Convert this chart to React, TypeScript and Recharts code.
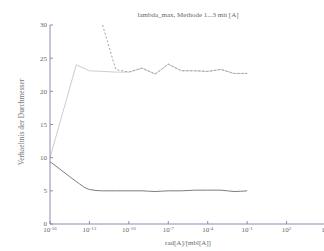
import { LineChart, Line, XAxis, YAxis } from "recharts";

const EXPONENTS = [-16, -15, -14, -13, -12, -11, -10, -9, -8, -7, -6, -5, -4, -3, -2, -1];
const METHOD_1 = [9.4, 7.9, 6.4, 5.2, 5.0, 5.0, 5.0, 5.0, 4.9, 5.0, 5.0, 5.1, 5.1, 5.1, 4.9, 5.0];
const METHOD_2 = [10, 17, 24, 23.1, 23.0, 22.9, 22.9, 23.5, 22.6, 24.1, 23.1, 23.1, 23.0, 23.3, 22.7, 22.7];
const METHOD_3 = [null, null, null, null, 30, 23.3, 22.9, 23.5, 22.6, 24.1, 23.1, 23.1, 23.0, 23.3, 22.7, 22.7];
const X_TICKS = [-16, -13, -10, -7, -4, -1, 2, 5];
const Y_TICKS = [0, 5, 10, 15, 20, 25, 30];

const data = EXPONENTS.map((e, i) => ({
  exp: e,
  m1: METHOD_1[i],
  m2: METHOD_2[i],
  m3: METHOD_3[i],
}));

const FONT = '"Liberation Serif", "DejaVu Serif", serif';
const AXIS = "#8a8dad";
const TEXT = "#666";

function PowTick(props: any) {
  const { x, y, payload } = props;
  return (
    <text x={x} y={y} textAnchor="middle" fontFamily={FONT} fontSize={7} fill={TEXT} dy={4}>
      10
      <tspan dy={-2} fontSize={5}>
        {payload.value}
      </tspan>
    </text>
  );
}

export default function App() {
  return (
    <div
      style={{
        position: "fixed",
        left: 0,
        top: 0,
        width: 324,
        height: 251,
        overflow: "hidden",
        background: "#fff",
        fontFamily: FONT,
      }}
    >
      <LineChart
        width={340}
        height={251}
        data={data}
        margin={{ top: 25, right: 14, bottom: 0, left: 8 }}
      >
        <XAxis
          dataKey="exp"
          type="number"
          domain={[-16, 5]}
          ticks={X_TICKS}
          height={27}
          stroke={AXIS}
          tickSize={-3}
          tickMargin={7}
          tick={<PowTick />}
          interval={0}
        />
        <XAxis
          xAxisId="top"
          orientation="top"
          dataKey="exp"
          type="number"
          domain={[-16, 5]}
          ticks={X_TICKS}
          height={0}
          stroke={AXIS}
          tickSize={-3}
          tick={false}
        />
        <YAxis
          domain={[0, 30]}
          ticks={Y_TICKS}
          width={42}
          allowDataOverflow
          stroke={AXIS}
          tickSize={-3}
          tickMargin={6}
          tick={{ fontSize: 7, fill: TEXT, fontFamily: FONT }}
        />
        <Line
          dataKey="m2"
          stroke="#cdcdcd"
          strokeWidth={1}
          dot={false}
          isAnimationActive={false}
        />
        <Line
          dataKey="m3"
          stroke="#a2a2a2"
          strokeWidth={1}
          strokeDasharray="2 2"
          dot={false}
          isAnimationActive={false}
        />
        <Line
          dataKey="m1"
          type="monotone"
          stroke="#7c7c7c"
          strokeWidth={1}
          dot={false}
          isAnimationActive={false}
        />
      </LineChart>
      <div
        style={{
          position: "absolute",
          left: 188,
          top: 11,
          transform: "translateX(-50%)",
          fontSize: 7,
          color: TEXT,
          whiteSpace: "nowrap",
        }}
      >
        lambda_max, Methode 1...3 mit [A]
      </div>
      <div
        style={{
          position: "absolute",
          left: 188,
          top: 239,
          transform: "translateX(-50%)",
          fontSize: 7,
          color: TEXT,
          whiteSpace: "nowrap",
        }}
      >
        rad[A]/[mbl[A]]
      </div>
      <div
        style={{
          position: "absolute",
          left: 21,
          top: 122,
          transform: "translate(-50%, -50%) rotate(-90deg)",
          fontSize: 7.5,
          color: "#777",
          whiteSpace: "nowrap",
        }}
      >
        Verhaeltnis der Durchmesser
      </div>
    </div>
  );
}
